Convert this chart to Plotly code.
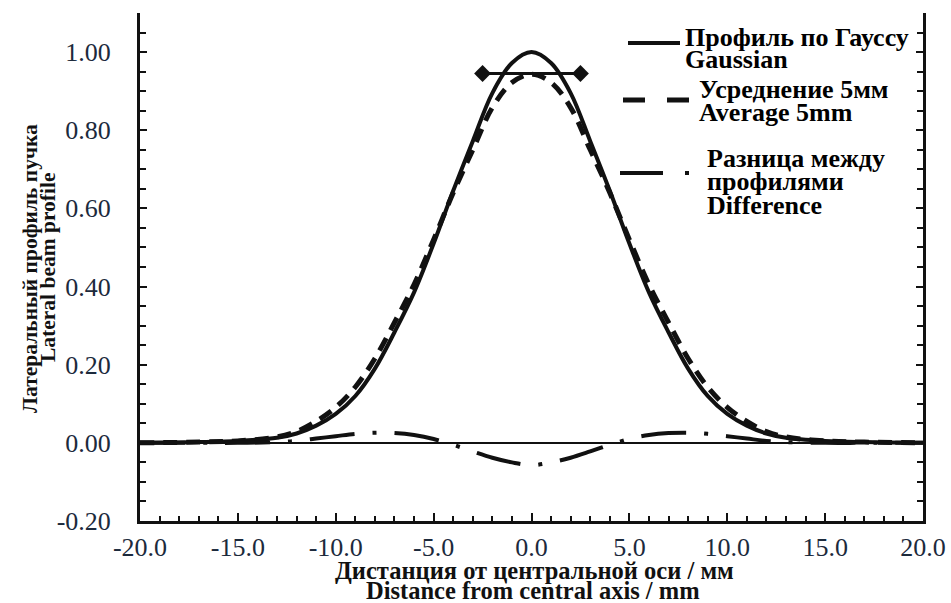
import plotly.graph_objects as go

# distance from central axis, mm
x_mm = [-20, -17, -15, -13, -12, -11, -10, -9, -8, -7, -6, -5, -4, -3, -2, -1, 0,
        1, 2, 3, 4, 5, 6, 7, 8, 9, 10, 11, 12, 13, 15, 17, 20]

gauss = [0.0, 0.002, 0.005, 0.013, 0.024, 0.044, 0.074, 0.12, 0.19, 0.283, 0.385, 0.51,
         0.645, 0.772, 0.895, 0.972, 1.0, 0.972, 0.895, 0.772, 0.645, 0.51, 0.385, 0.283,
         0.19, 0.12, 0.074, 0.044, 0.024, 0.013, 0.005, 0.002, 0.0]

avg5 = [0.0, 0.002, 0.005, 0.015, 0.029, 0.055, 0.091, 0.143, 0.216, 0.308, 0.405, 0.52,
        0.64, 0.75, 0.858, 0.922, 0.943, 0.922, 0.858, 0.75, 0.64, 0.52, 0.405, 0.308,
        0.216, 0.143, 0.091, 0.055, 0.029, 0.015, 0.005, 0.002, 0.0]

diff = [0.0, 0.0, 0.0, 0.002, 0.005, 0.011, 0.017, 0.023, 0.026, 0.025, 0.02, 0.01,
        -0.005, -0.022, -0.038, -0.05, -0.057, -0.05, -0.038, -0.022, -0.005, 0.01, 0.02,
        0.025, 0.026, 0.023, 0.017, 0.011, 0.005, 0.002, 0.0, 0.0, 0.0]

# 5 mm averaging window marker
win_x = [-2.5, 2.5]
win_y = [0.945, 0.945]

x_ticks = [-20, -15, -10, -5, 0, 5, 10, 15, 20]
x_tick_labels = ["-20.0", "-15.0", "-10.0", "-5.0", "0.0", "5.0", "10.0", "15.0", "20.0"]
y_ticks = [-0.2, 0.0, 0.2, 0.4, 0.6, 0.8, 1.0]
y_tick_labels = ["-0.20", "0.00", "0.20", "0.40", "0.60", "0.80", "1.00"]

legend_lines = [["Профиль по Гауссу", "Gaussian"],
                ["Усреднение 5мм", "Average 5mm"],
                ["Разница между", "профилями", "Difference"]]

SERIF = "Liberation Serif"
INK = "#111111"
W, H = 951, 603
ML, MR, MT, MB = 140, 28, 13, 82

solid = dict(color=INK, width=4)
dashed = dict(color=INK, width=5, dash="14px,9px")
dashdot = dict(color=INK, width=4, dash="45px,18px,4px,18px")

fig = go.Figure()
fig.add_trace(go.Scatter(x=x_mm, y=gauss, mode="lines", line_shape="spline", line=solid))
fig.add_trace(go.Scatter(x=x_mm, y=avg5, mode="lines", line_shape="spline", line=dashed))
fig.add_trace(go.Scatter(x=x_mm, y=diff, mode="lines", line_shape="spline", line=dashdot))
fig.add_trace(go.Scatter(x=win_x, y=win_y, mode="lines+markers",
                         line=dict(color=INK, width=3),
                         marker=dict(symbol="diamond", size=13, color=INK)))

fig.update_layout(
    width=W, height=H,
    margin=dict(l=ML, r=MR, t=MT, b=MB),
    plot_bgcolor="white", paper_bgcolor="white",
    showlegend=False,
    font=dict(family=SERIF, color=INK),
    xaxis=dict(range=[-20, 20], tickvals=x_ticks, ticktext=x_tick_labels,
               ticks="inside", ticklen=8, tickwidth=2, tickcolor=INK,
               minor=dict(dtick=1, tick0=-20, ticks="inside", ticklen=5, tickwidth=2,
                          tickcolor=INK),
               showline=True, linewidth=3, linecolor=INK, showgrid=False, zeroline=False,
               tickfont=dict(family=SERIF, size=26, color="#1c2a3c"),
               ticklabelstandoff=1, automargin=False),
    xaxis2=dict(range=[-20, 20], overlaying="x", side="top", anchor="y",
                tick0=-20, dtick=40 / 48, ticks="inside", ticklen=5, tickwidth=2,
                tickcolor=INK, showticklabels=False, showline=True, linewidth=3,
                linecolor=INK, showgrid=False, zeroline=False, automargin=False),
    yaxis=dict(range=[-0.2, 1.1], tickvals=y_ticks, ticktext=y_tick_labels,
               ticks="inside", ticklen=7, tickwidth=2, tickcolor=INK, mirror="ticks",
               minor=dict(dtick=0.05, tick0=0, ticks="inside", ticklen=6, tickwidth=2,
                          tickcolor=INK),
               showline=True, linewidth=3, linecolor=INK, showgrid=False,
               zeroline=True, zerolinecolor=INK, zerolinewidth=1.5,
               tickfont=dict(family=SERIF, size=26, color="#1c2a3c"),
               ticklabelstandoff=21, automargin=False),
)


def px_x(p):
    return (p - ML) / (W - ML - MR)


def px_y(p):
    return (H - MB - p) / (H - MT - MB)


# axis titles, one annotation per line
xt_font = dict(family=SERIF, size=24.5, weight="bold", color=INK)
yt_font = dict(family=SERIF, size=21.5, weight="bold", color=INK)
fig.add_annotation(text="Дистанция от центральной оси / мм", x=px_x(534), y=px_y(570),
                   font=xt_font, xanchor="center")
fig.add_annotation(text="Distance from central axis / mm", x=px_x(533), y=px_y(590),
                   font=xt_font, xanchor="center")
fig.add_annotation(text="Латеральный профиль пучка", x=px_x(30), y=px_y(268),
                   font=yt_font, textangle=-90, xanchor="center")
fig.add_annotation(text="Lateral beam profile", x=px_x(48), y=px_y(268),
                   font=yt_font, textangle=-90, xanchor="center")

# hand-placed legend inside the plot, as in the original figure
lg_font = dict(family=SERIF, size=26, weight="bold", color="black")
lg_keys = [(628, 680, 43, solid),
           (623, 690, 100, dict(color=INK, width=5, dash="22px,22px")),
           (620, 692, 173, dict(color=INK, width=4, dash="43px,22px,4px,40px"))]
lg_text = [(683, [37, 60]), (697, [90, 113]), (705, [158, 182, 205])]
for (x0, x1, yk, ln), (tx, ty), lines in zip(lg_keys, lg_text, legend_lines):
    fig.add_shape(type="line", xref="paper", yref="paper",
                  x0=px_x(x0), x1=px_x(x1), y0=px_y(yk), y1=px_y(yk), line=ln)
    for t, yy in zip(lines, ty):
        fig.add_annotation(text=t, x=px_x(tx), y=px_y(yy), xanchor="left",
                           font=lg_font)

fig.update_annotations(xref="paper", yref="paper", showarrow=False, yanchor="middle")

fig.write_html("out.html", config={"displayModeBar": False},
               post_script="document.body.style.margin='0px';"
                           "document.body.style.overflow='hidden';")
